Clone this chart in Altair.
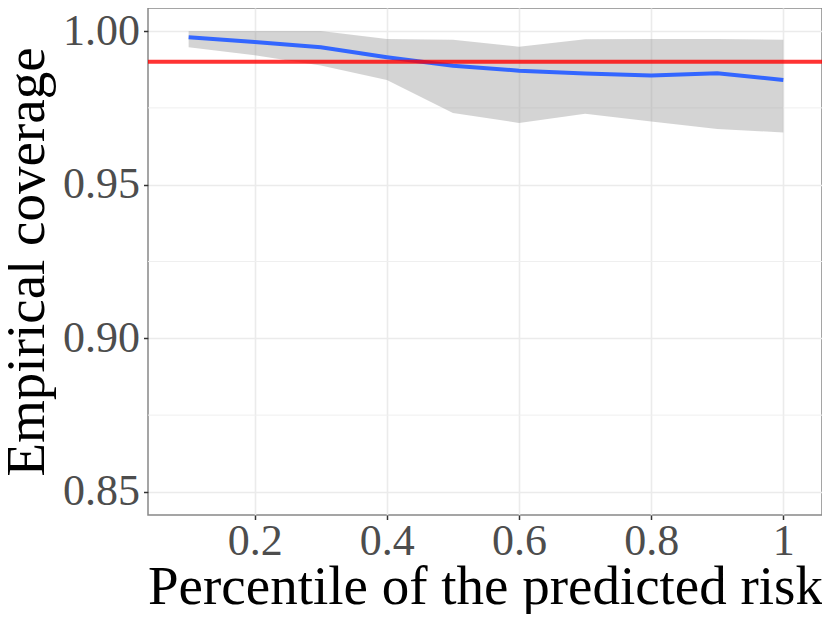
import altair as alt
import pandas as pd

# Data
percentile = [0.1, 0.2, 0.3, 0.4, 0.5, 0.6, 0.7, 0.8, 0.9, 1.0]
coverage = [0.9980, 0.9964, 0.9947, 0.9915, 0.9887, 0.9871, 0.9862, 0.9855, 0.9863, 0.9841]
lower = [0.9947, 0.9921, 0.9888, 0.9841, 0.9733, 0.9701, 0.9731, 0.9706, 0.9681, 0.9670]
upper = [1.0000, 1.0000, 1.0000, 0.9974, 0.9972, 0.9949, 0.9973, 0.9974, 0.9974, 0.9972]
target = [0.99]
x_ticks = [0.2, 0.4, 0.6, 0.8, 1.0]
y_ticks = [0.85, 0.90, 0.95, 1.00]
y_minor = [0.875, 0.925, 0.975]

df = pd.DataFrame({"p": percentile, "cov": coverage, "lo": lower, "hi": upper})
df_target = pd.DataFrame({"t": target})
df_minor = pd.DataFrame({"m": y_minor})

FONT = "Liberation Serif"

xscale = alt.Scale(domain=[0.0385, 1.0585], nice=False, zero=False)
yscale = alt.Scale(domain=[0.8425, 1.0075], nice=False, zero=False)

common = dict(
    labelFont=FONT, titleFont=FONT, labelFontSize=44, titleFontSize=55,
    labelColor="#4D4D4D", titleColor="#000000", titleFontWeight="normal",
    gridColor="#EBEBEB", gridWidth=1.6, domain=False,
    tickColor="#333333", tickWidth=1.5, tickSize=4.5, labelOverlap=False,
)

xaxis = alt.Axis(
    values=x_ticks, format="~g", title="Percentile of the predicted risk",
    titleY=88, titleBaseline="alphabetic", labelPadding=0, **common,
)
yaxis = alt.Axis(
    values=y_ticks, format=".2f", title="Empirical coverage",
    titleX=-105, titleY=253.5, titleAngle=-90, titleAlign="center",
    titleBaseline="alphabetic", labelPadding=4, **common,
)

minor = alt.Chart(df_minor).mark_rule(color="#EFEFEF", strokeWidth=1).encode(
    y=alt.Y("m:Q", scale=yscale, axis=yaxis)
)

ribbon = alt.Chart(df).mark_area(color="#999999", opacity=0.42).encode(
    x=alt.X("p:Q", scale=xscale, axis=xaxis),
    y=alt.Y("lo:Q", scale=yscale, axis=yaxis),
    y2="hi:Q",
)

line = alt.Chart(df).mark_line(color="#3366FF", strokeWidth=4).encode(
    x=alt.X("p:Q", scale=xscale, axis=xaxis),
    y=alt.Y("cov:Q", scale=yscale, axis=yaxis),
)

hline = alt.Chart(df_target).mark_rule(color="#FF0000", opacity=0.8, strokeWidth=4).encode(
    y=alt.Y("t:Q", scale=yscale, axis=yaxis)
)

chart = (
    alt.layer(minor, ribbon, line, hline)
    .properties(
        width=674, height=507,
        autosize=alt.AutoSizeParams(type="none"),
        padding={"left": 140, "top": 0, "right": 0, "bottom": 99},
        background="white",
    )
    .configure_view(stroke="#888888", strokeWidth=1.5)
)

chart.save("out.html", embed_options={"renderer": "svg", "actions": False})
